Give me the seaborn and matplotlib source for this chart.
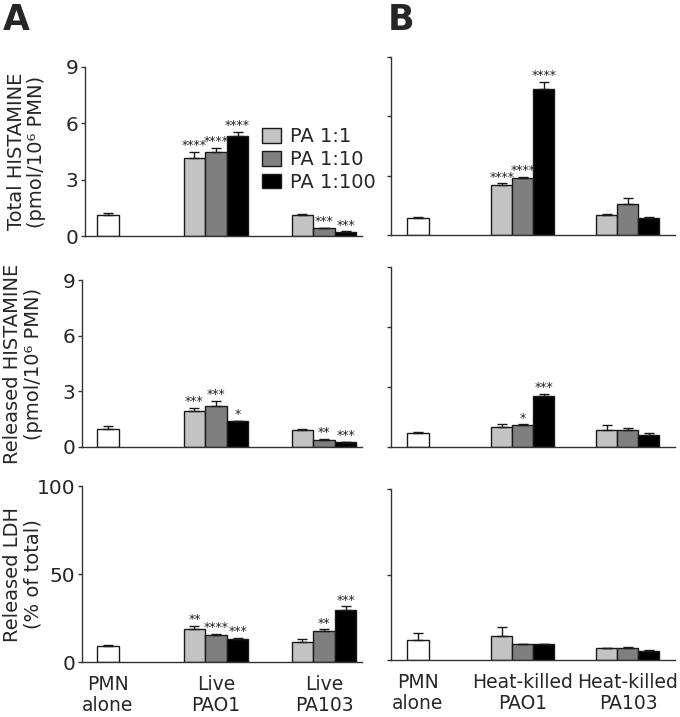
import pandas as pd
import seaborn as sns
import matplotlib.pyplot as plt

# categories
cond_A = ["PMN\nalone", "Live\nPAO1", "Live\nPA103"]
cond_B = ["PMN\nalone", "Heat-killed\nPAO1", "Heat-killed\nPA103"]
ratios = ["PA 1:1", "PA 1:10", "PA 1:100"]
ratio_colors = ["#c3c3c3", "#7f7f7f", "#000000"]

# Total histamine (pmol/10^6 PMN)
total_A_pmn, total_A_pmn_err = 1.1, 0.1
total_A_g1 = [4.15, 4.5, 5.35]
total_A_g1_err = [0.35, 0.2, 0.2]
total_A_g1_stars = ["****", "****", "****"]
total_A_g2 = [1.1, 0.4, 0.22]
total_A_g2_err = [0.05, 0.04, 0.03]
total_A_g2_stars = ["", "***", "***"]

total_B_pmn, total_B_pmn_err = 0.85, 0.06
total_B_g1 = [2.55, 2.87, 7.4]
total_B_g1_err = [0.06, 0.06, 0.35]
total_B_g1_stars = ["****", "****", "****"]
total_B_g2 = [1.0, 1.57, 0.85]
total_B_g2_err = [0.05, 0.3, 0.08]
total_B_g2_stars = ["", "", ""]

# Released histamine (pmol/10^6 PMN)
rel_A_pmn, rel_A_pmn_err = 0.98, 0.15
rel_A_g1 = [1.95, 2.22, 1.38]
rel_A_g1_err = [0.15, 0.27, 0.03]
rel_A_g1_stars = ["***", "***", "*"]
rel_A_g2 = [0.93, 0.39, 0.25]
rel_A_g2_err = [0.05, 0.04, 0.02]
rel_A_g2_stars = ["", "**", "***"]

rel_B_pmn, rel_B_pmn_err = 0.7, 0.05
rel_B_g1 = [0.98, 1.08, 2.57]
rel_B_g1_err = [0.15, 0.05, 0.1]
rel_B_g1_stars = ["", "*", "***"]
rel_B_g2 = [0.87, 0.87, 0.62]
rel_B_g2_err = [0.25, 0.1, 0.07]
rel_B_g2_stars = ["", "", ""]

# Released LDH (% of total)
ldh_A_pmn, ldh_A_pmn_err = 9.1, 0.6
ldh_A_g1 = [19.0, 15.6, 13.3]
ldh_A_g1_err = [1.5, 0.3, 0.3]
ldh_A_g1_stars = ["**", "****", "***"]
ldh_A_g2 = [11.4, 17.5, 29.4]
ldh_A_g2_err = [1.4, 1.0, 2.2]
ldh_A_g2_stars = ["", "**", "***"]

ldh_B_pmn, ldh_B_pmn_err = 11.7, 4.3
ldh_B_g1 = [14.0, 9.2, 9.2]
ldh_B_g1_err = [5.5, 0.3, 0.3]
ldh_B_g1_stars = ["", "", ""]
ldh_B_g2 = [6.8, 7.2, 5.3]
ldh_B_g2_err = [0.4, 0.4, 0.6]
ldh_B_g2_stars = ["", "", ""]

hist_ticks = [0, 3, 6, 9]
ldh_ticks = [0, 50, 100]

W, H = 680, 717
EDGE = "#1a1a1a"

sns.set_style("white")
plt.rcParams['font.family'] = ['DejaVu Sans']

fig = plt.figure(figsize=(W / 100, H / 100), dpi=100)


def make_axes(left, right, top, bottom):
    return fig.add_axes([left / W, 1 - bottom / H, (right - left) / W, (bottom - top) / H])


def draw_panel(ax, conds, pmn, pmn_err, g1, g1_err, g2, g2_err, s1, s2,
               ticks, xlim, ylabel=None, show_x=False, legend=False):
    pmn_df = pd.DataFrame({"cond": [conds[0]], "value": [pmn]})
    pa_df = pd.DataFrame({
        "cond": [conds[1]] * 3 + [conds[2]] * 3,
        "ratio": ratios * 2,
        "value": g1 + g2,
    })
    sns.barplot(data=pmn_df, x="cond", y="value", order=conds, color="white",
                saturation=1, width=0.21, edgecolor=EDGE, linewidth=1,
                errorbar=None, ax=ax)
    sns.barplot(data=pa_df, x="cond", y="value", hue="ratio", order=conds,
                hue_order=ratios, palette=ratio_colors, saturation=1, width=0.6,
                edgecolor=EDGE, linewidth=1, errorbar=None, ax=ax, legend=legend)

    errs = [[pmn_err]] + [[g1_err[i], g2_err[i]] for i in range(3)]
    stars = [[""]] + [[s1[i], s2[i]] for i in range(3)]
    for cont, e_list, s_list in zip(ax.containers, errs, stars):
        bars = sorted(cont.patches, key=lambda p: p.get_x())
        for bar, e, s in zip(bars, e_list, s_list):
            xc = bar.get_x() + bar.get_width() / 2
            h = bar.get_height()
            ax.errorbar(xc, h, yerr=[[0], [e]], fmt="none", ecolor=EDGE,
                        elinewidth=1, capsize=3.5, capthick=1)
            if s:
                ax.annotate(s, (xc, h + e), xytext=(0, 2), textcoords="offset points",
                            ha="center", va="baseline", fontsize=9, color="#222222")

    ax.set_ylim(ticks[0], ticks[-1])
    ax.set_yticks(ticks)
    ax.set_xlim(*xlim)
    sns.despine(ax=ax)
    for sp in ["left", "bottom"]:
        ax.spines[sp].set_linewidth(1)
        ax.spines[sp].set_color("#333333")
    ax.tick_params(axis="y", left=True, direction="out", length=3, width=1,
                   color="#333333", labelsize=14.5, pad=2,
                   labelleft=ylabel is not None)
    ax.tick_params(axis="x", bottom=False, labelbottom=show_x, labelsize=13.5, pad=6)
    if show_x:
        for t in ax.get_xticklabels():
            t.set_linespacing(1.15)
    ax.set_xlabel("")
    if ylabel:
        ax.set_ylabel(ylabel, fontsize=14, linespacing=1.1)
        ax.yaxis.set_label_coords(-0.14, 0.5)
    else:
        ax.set_ylabel("")


xlim_A = (-0.213, 2.352)
xlim_A2 = (-0.241, 2.352)
xlim_B = (-0.257, 2.448)

ax1 = make_axes(85, 362, 67, 236)
draw_panel(ax1, cond_A, total_A_pmn, total_A_pmn_err, total_A_g1, total_A_g1_err,
           total_A_g2, total_A_g2_err, total_A_g1_stars, total_A_g2_stars,
           hist_ticks, xlim_A, ylabel="Total HISTAMINE\n(pmol/10⁶ PMN)", legend=True)
handles, labels = ax1.get_legend_handles_labels()
ax1.legend(handles, labels, loc="upper left", bbox_to_anchor=(0.64, 0.645),
           frameon=False, fontsize=14, handlelength=0.95, handleheight=0.8,
           labelspacing=0.2, handletextpad=0.5, borderaxespad=0, borderpad=0)

ax2 = make_axes(391, 675, 57, 235)
draw_panel(ax2, cond_B, total_B_pmn, total_B_pmn_err, total_B_g1, total_B_g1_err,
           total_B_g2, total_B_g2_err, total_B_g1_stars, total_B_g2_stars,
           hist_ticks, xlim_B)

ax3 = make_axes(82, 362, 280, 447)
draw_panel(ax3, cond_A, rel_A_pmn, rel_A_pmn_err, rel_A_g1, rel_A_g1_err,
           rel_A_g2, rel_A_g2_err, rel_A_g1_stars, rel_A_g2_stars,
           hist_ticks, xlim_A2, ylabel="Released HISTAMINE\n(pmol/10⁶ PMN)")

ax4 = make_axes(391, 675, 267, 447)
draw_panel(ax4, cond_B, rel_B_pmn, rel_B_pmn_err, rel_B_g1, rel_B_g1_err,
           rel_B_g2, rel_B_g2_err, rel_B_g1_stars, rel_B_g2_stars,
           hist_ticks, xlim_B)

ax5 = make_axes(82, 362, 486, 662)
draw_panel(ax5, cond_A, ldh_A_pmn, ldh_A_pmn_err, ldh_A_g1, ldh_A_g1_err,
           ldh_A_g2, ldh_A_g2_err, ldh_A_g1_stars, ldh_A_g2_stars,
           ldh_ticks, xlim_A2, ylabel="Released LDH\n(% of total)", show_x=True)

ax6 = make_axes(391, 675, 489, 660)
draw_panel(ax6, cond_B, ldh_B_pmn, ldh_B_pmn_err, ldh_B_g1, ldh_B_g1_err,
           ldh_B_g2, ldh_B_g2_err, ldh_B_g1_stars, ldh_B_g2_stars,
           ldh_ticks, xlim_B, show_x=True)

fig.text(3 / W, 1 - 3 / H, "A", fontsize=25, fontweight="bold", va="top", ha="left")
fig.text(388 / W, 1 - 3 / H, "B", fontsize=25, fontweight="bold", va="top", ha="left")

fig.savefig("out.png", dpi=100, facecolor="white")
